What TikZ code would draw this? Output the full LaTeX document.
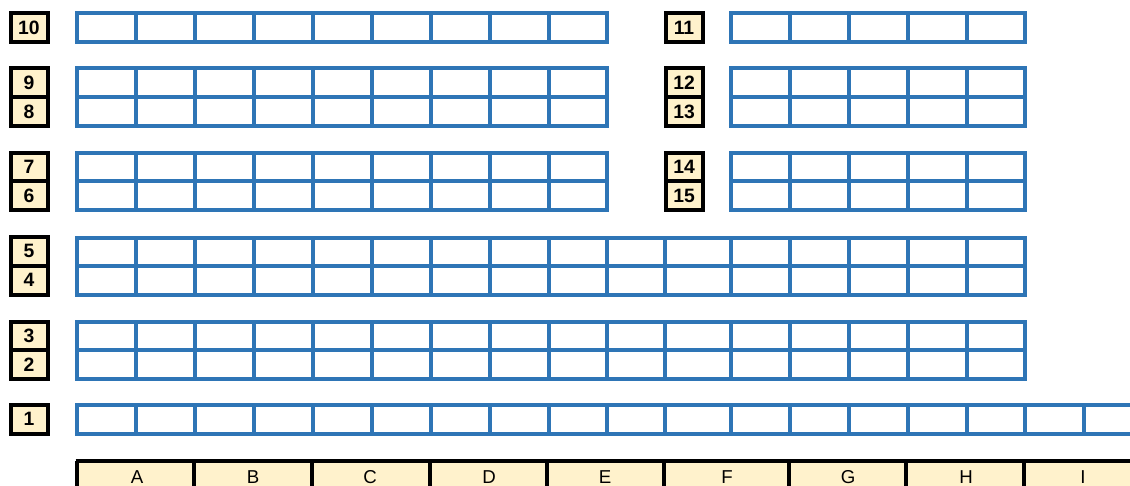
\documentclass[tikz,border=0pt]{standalone}
\usepackage{fontspec}
\setmainfont{Liberation Sans}
\definecolor{gridblue}{HTML}{2E75B6}
\definecolor{cream}{HTML}{FFF2CC}
\begin{document}
\begin{tikzpicture}[x=0.75pt,y=-0.75pt,
  gridline/.style={draw=gridblue,line width=3.4pt,line cap=rect},
  lab/.style={draw=black,line width=3pt,fill=cream,minimum width=27.75pt,
    minimum height=21.75pt,inner sep=0pt,font=\bfseries\fontsize{14.5}{14.5}\selectfont},
  hdr/.style={inner sep=0pt,text depth=0pt,anchor=base,font=\fontsize{14}{14}\selectfont},
  hdrline/.style={draw=black,line width=3pt}]
\useasboundingbox (0,0) rectangle (1130,485);

\def\leftcols{77,136,195,254,313,372,431,490,549,607}
\def\rightcols{731,790,849,908,967,1025}
\def\fullcols{77,136,195,254,313,372,431,490,549,607,665,731,790,849,908,967,1025}
\def\onecols{77,136,195,254,313,372,431,490,549,607,665,731,790,849,908,967,1025,1084}

% row 10 / 11
\foreach \y in {13,42} {\draw[gridline] (77,\y) -- (607,\y); \draw[gridline] (731,\y) -- (1025,\y);}
\foreach \x in \leftcols {\draw[gridline] (\x,13) -- (\x,42);}
\foreach \x in \rightcols {\draw[gridline] (\x,13) -- (\x,42);}

% rows 9/8 and 12/13
\foreach \y in {68,97,126} {\draw[gridline] (77,\y) -- (607,\y); \draw[gridline] (731,\y) -- (1025,\y);}
\foreach \x in \leftcols {\draw[gridline] (\x,68) -- (\x,126);}
\foreach \x in \rightcols {\draw[gridline] (\x,68) -- (\x,126);}

% rows 7/6 and 14/15
\foreach \y in {153,181,210} {\draw[gridline] (77,\y) -- (607,\y); \draw[gridline] (731,\y) -- (1025,\y);}
\foreach \x in \leftcols {\draw[gridline] (\x,153) -- (\x,210);}
\foreach \x in \rightcols {\draw[gridline] (\x,153) -- (\x,210);}

% rows 5/4
\foreach \y in {238,266,295} {\draw[gridline] (77,\y) -- (1025,\y);}
\foreach \x in \fullcols {\draw[gridline] (\x,238) -- (\x,295);}

% rows 3/2
\foreach \y in {322,350,379} {\draw[gridline] (77,\y) -- (1025,\y);}
\foreach \x in \fullcols {\draw[gridline] (\x,322) -- (\x,379);}

% row 1
\foreach \y in {405,434} {\draw[gridline] (77,\y) -- (1140,\y);}
\foreach \x in \onecols {\draw[gridline] (\x,405) -- (\x,434);}

% ---------- row labels ----------
\node[lab] (l10) at (29,27.5) {10};
\node[lab] (l9)  at (29,82.5) {9};
\node[lab] (l8)  at (29,111.5) {8};
\node[lab] (l7)  at (29,167) {7};
\node[lab] (l6)  at (29,195.5) {6};
\node[lab] (l5)  at (29,251) {5};
\node[lab] (l4)  at (29,280) {4};
\node[lab] (l3)  at (29,336) {3};
\node[lab] (l2)  at (29,364.5) {2};
\node[lab] (l1)  at (29,419) {1};

\node[lab] (l11) at (684,27.5) {11};
\node[lab] (l12) at (684,82.5) {12};
\node[lab] (l13) at (684,111.5) {13};
\node[lab] (l14) at (684,167) {14};
\node[lab] (l15) at (684,195.5) {15};

% ---------- column header ----------
\fill[cream] (77,461) rectangle (1140,495);
\draw[hdrline] (75.5,461) -- (1140,461);
\foreach \x in {77,194,312,430,547,664,789,906,1024} {\draw[hdrline] (\x,461) -- (\x,495);}
\node[hdr] (hA) at (137,483) {A};
\node[hdr] (hB) at (253,483) {B};
\node[hdr] (hC) at (370,483) {C};
\node[hdr] (hD) at (489,483) {D};
\node[hdr] (hE) at (605,483) {E};
\node[hdr] (hF) at (727,483) {F};
\node[hdr] (hG) at (848,483) {G};
\node[hdr] (hH) at (966,483) {H};
\node[hdr] (hI) at (1083,483) {I};
\end{tikzpicture}
\end{document}
